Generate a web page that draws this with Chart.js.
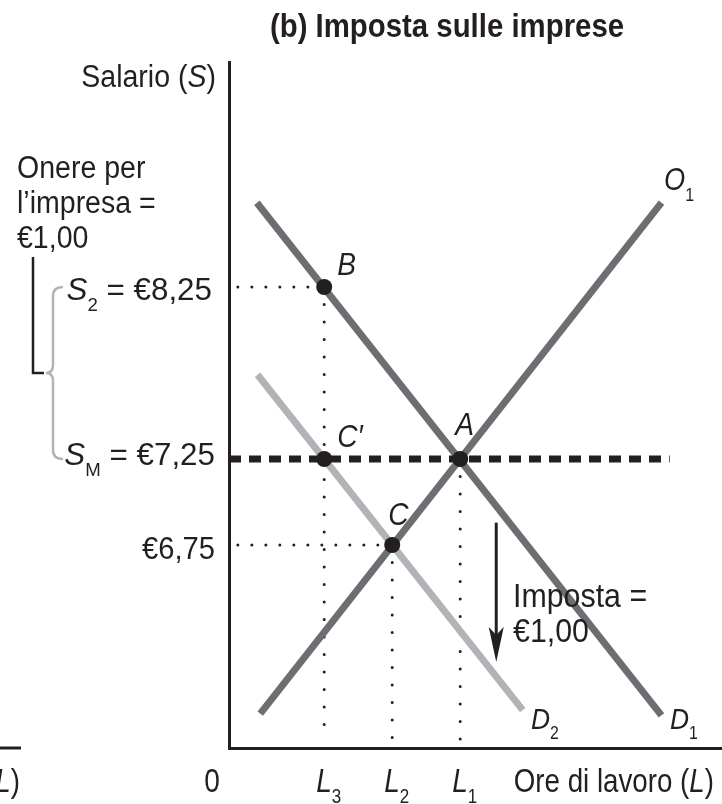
<!DOCTYPE html>
<html>
<head>
<meta charset="utf-8">
<script src="https://cdn.jsdelivr.net/npm/chart.js@4.4.0/dist/chart.umd.min.js"></script>
<style>
  html, body { margin: 0; padding: 0; background: #fff; }
  #wrap { width: 722px; height: 804px; }
</style>
</head>
<body>
<div id="wrap"><canvas id="chart" width="722" height="804"></canvas></div>
<script>
// ore di lavoro sull'asse x, salario (euro) sull'asse y
const lLabels = ['3', '2', '1'];      // pedici di L
const lValues = [14, 24, 34];

const wageValues = [8.25, 7.25, 6.75];

// estremi delle curve
const d1X = [4.1, 63.6];
const d1Y = [8.74, 5.76];
const d2X = [4.2, 43.2];
const d2Y = [7.74, 5.79];
const o1X = [4.6, 63.6];
const o1Y = [5.77, 8.74];

// punti segnati
const pointNames = ['B', 'C\u2032', 'A', 'C'];
const pointX = [14, 14, 34, 24];
const pointY = [8.25, 7.25, 7.25, 6.75];

// salario minimo tratteggiato
const minWageX = [0, 64.8];
const minWageY = [7.25, 7.25];

// freccia dell'imposta
const taxArrowX = 39.3;
const taxArrowY = [6.88, 6.07];

const guideStartX = 1.3;
const guideBottomY = 5.62;

const INK = '#231f20';
const DARK = '#6d6e71';
const LIGHT = '#b1b3b6';
const FONT = '"Liberation Sans", Arial, sans-serif';

function xy(xs, ys) {
  return xs.map((x, i) => ({ x, y: ys[i] }));
}

function fontFor(style, size) {
  if (style === 'b') return 'bold ' + size + 'px ' + FONT;
  if (style === 'i') return 'italic ' + size + 'px ' + FONT;
  if (style === 'sub') return Math.round(size * 0.6) + 'px ' + FONT;
  return size + 'px ' + FONT;
}

// runs: [[testo, stile], ...]; il testo viene stretto in orizzontale (carattere condensed)
function drawRuns(ctx, runs, x, y, size, align, squeeze) {
  const f = squeeze || 0.9;
  ctx.textBaseline = 'alphabetic';
  ctx.textAlign = 'left';
  let total = 0;
  const widths = runs.map(r => {
    ctx.font = fontFor(r[1], size);
    const w = ctx.measureText(r[0]).width * f;
    total += w;
    return w;
  });
  let cx = x;
  if (align === 'right') cx = x - total;
  if (align === 'center') cx = x - total / 2;
  runs.forEach((r, i) => {
    ctx.font = fontFor(r[1], size);
    const dy = r[1] === 'sub' ? size * 0.34 : 0;
    ctx.save();
    ctx.translate(cx, y + dy);
    ctx.scale(f, 1);
    ctx.fillText(r[0], 0, 0);
    ctx.restore();
    cx += widths[i];
  });
}

const annotations = {
  id: 'annotations',
  afterDraw(chart) {
    const ctx = chart.ctx;
    const xs = chart.scales.x;
    const ys = chart.scales.y;
    ctx.save();
    ctx.fillStyle = INK;

    // titolo
    drawRuns(ctx, [['(b) Imposta sulle imprese', 'b']], 447, 37, 33, 'center', 0.89);

    // asse y
    drawRuns(ctx, [['Salario (', ''], ['S', 'i'], [')', '']], 216, 87, 31, 'right', 0.92);
    drawRuns(ctx, [['S', 'i'], ['2', 'sub'], [' = \u20ac8,25', '']], 212, ys.getPixelForValue(wageValues[0]) + 13, 32, 'right', 0.98);
    drawRuns(ctx, [['S', 'i'], ['M', 'sub'], [' = \u20ac7,25', '']], 215, ys.getPixelForValue(wageValues[1]) + 6, 32, 'right', 0.98);
    drawRuns(ctx, [['\u20ac6,75', '']], 215, ys.getPixelForValue(wageValues[2]) + 14, 31, 'right', 0.94);

    // onere per l'impresa
    drawRuns(ctx, [['Onere per', '']], 17, 178, 31, 'left', 0.92);
    drawRuns(ctx, [['l\u2019impresa =', '']], 17, 213, 31, 'left', 0.92);
    drawRuns(ctx, [['\u20ac1,00', '']], 17, 248, 31, 'left', 0.92);

    const yTop = ys.getPixelForValue(wageValues[0]);
    const yBot = ys.getPixelForValue(wageValues[1]);
    const yMid = (yTop + yBot) / 2;

    ctx.strokeStyle = INK;
    ctx.lineWidth = 2.5;
    ctx.beginPath();
    ctx.moveTo(33, 257);
    ctx.lineTo(33, yMid);
    ctx.lineTo(44, yMid);
    ctx.stroke();

    ctx.strokeStyle = LIGHT;
    ctx.lineWidth = 2.5;
    ctx.beginPath();
    ctx.moveTo(63, yTop);
    ctx.quadraticCurveTo(53, yTop, 53, yTop + 9);
    ctx.lineTo(53, yMid - 8);
    ctx.quadraticCurveTo(53, yMid, 46, yMid);
    ctx.quadraticCurveTo(53, yMid, 53, yMid + 8);
    ctx.lineTo(53, yBot - 9);
    ctx.quadraticCurveTo(53, yBot, 63, yBot);
    ctx.stroke();

    // etichette dei punti
    const offsets = [[13, -12], [13, -12], [-5, -24], [-4, -20]];
    pointNames.forEach((n, i) => {
      const px = xs.getPixelForValue(pointX[i]) + offsets[i][0];
      const py = ys.getPixelForValue(pointY[i]) + offsets[i][1];
      drawRuns(ctx, [[n, 'i']], px, py, 32, 'left', 0.88);
    });

    // etichette delle curve
    drawRuns(ctx, [['O', 'i'], ['1', 'sub']], 664, 190, 32, 'left', 0.85);
    drawRuns(ctx, [['D', 'i'], ['2', 'sub']], 531, 729, 30, 'left', 0.88);
    drawRuns(ctx, [['D', 'i'], ['1', 'sub']], 670, 729, 30, 'left', 0.88);

    // freccia imposta
    const ax = xs.getPixelForValue(taxArrowX);
    const a0 = ys.getPixelForValue(taxArrowY[0]);
    const a1 = ys.getPixelForValue(taxArrowY[1]);
    ctx.strokeStyle = INK;
    ctx.lineWidth = 3;
    ctx.beginPath();
    ctx.moveTo(ax, a0);
    ctx.lineTo(ax, a1 - 20);
    ctx.stroke();
    ctx.beginPath();
    ctx.moveTo(ax, a1);
    ctx.lineTo(ax - 7.5, a1 - 35);
    ctx.lineTo(ax, a1 - 27);
    ctx.lineTo(ax + 7.5, a1 - 35);
    ctx.closePath();
    ctx.fill();
    drawRuns(ctx, [['Imposta =', '']], 513, 607, 33, 'left', 0.92);
    drawRuns(ctx, [['\u20ac1,00', '']], 513, 642, 33, 'left', 0.92);

    // asse x
    drawRuns(ctx, [['0', '']], 212, 792, 33, 'center', 0.85);
    lValues.forEach((v, i) => {
      drawRuns(ctx, [['L', 'i'], [lLabels[i], 'sub']], xs.getPixelForValue(v) - 8, 792, 33, 'left', 0.85);
    });
    drawRuns(ctx, [['Ore di lavoro (', ''], ['L', 'i'], [')', '']], 714, 792, 33, 'right', 0.84);

    // resto del pannello (a)
    drawRuns(ctx, [['(', ''], ['L', 'i'], [')', '']], 20, 792, 33, 'right', 0.84);
    ctx.strokeStyle = INK;
    ctx.lineWidth = 3;
    ctx.beginPath();
    ctx.moveTo(0, 748);
    ctx.lineTo(21, 748);
    ctx.stroke();

    ctx.restore();
  }
};

function dotted(points, gap) {
  return {
    type: 'line',
    data: points,
    borderColor: INK,
    borderWidth: 3,
    borderDash: [0, gap],
    borderCapStyle: 'round',
    pointRadius: 0,
    order: 5
  };
}

function curve(xs, ys, color) {
  return {
    type: 'line',
    data: xy(xs, ys),
    borderColor: color,
    borderWidth: 7,
    borderCapStyle: 'butt',
    pointRadius: 0,
    order: 3
  };
}

const datasets = [
  {
    type: 'scatter',
    data: xy(pointX, pointY),
    backgroundColor: INK,
    borderWidth: 0,
    pointRadius: 8,
    order: 0
  },
  {
    type: 'line',
    data: xy(minWageX, minWageY),
    borderColor: INK,
    borderWidth: 7,
    borderDash: [12, 8],
    borderCapStyle: 'butt',
    pointRadius: 0,
    order: 1
  },
  curve(d2X, d2Y, LIGHT),
  curve(d1X, d1Y, DARK),
  curve(o1X, o1Y, DARK),
  dotted([{ x: guideStartX, y: wageValues[0] }, { x: lValues[0], y: wageValues[0] }], 14),
  dotted([{ x: guideStartX, y: wageValues[2] }, { x: lValues[1], y: wageValues[2] }], 14),
  dotted([{ x: lValues[0], y: wageValues[0] }, { x: lValues[0], y: guideBottomY }], 17.5),
  dotted([{ x: lValues[1], y: wageValues[2] }, { x: lValues[1], y: guideBottomY }], 17.5),
  dotted([{ x: lValues[2], y: wageValues[1] }, { x: lValues[2], y: guideBottomY }], 17.5)
];

new Chart(document.getElementById('chart').getContext('2d'), {
  type: 'scatter',
  data: { datasets },
  options: {
    responsive: false,
    animation: false,
    devicePixelRatio: 1,
    layout: { autoPadding: false, padding: { left: 229, top: 62, right: 0, bottom: 56 } },
    plugins: { legend: { display: false }, tooltip: { enabled: false } },
    scales: {
      x: {
        type: 'linear',
        min: 0,
        max: 72.5,
        grid: { display: false, drawTicks: false },
        border: { display: true, color: INK, width: 3 },
        ticks: { display: false }
      },
      y: {
        type: 'linear',
        min: 5.57,
        max: 9.558,
        grid: { display: false, drawTicks: false },
        border: { display: true, color: INK, width: 3 },
        ticks: { display: false }
      }
    },
    elements: { line: { tension: 0 } }
  },
  plugins: [annotations]
});
</script>
</body>
</html>
